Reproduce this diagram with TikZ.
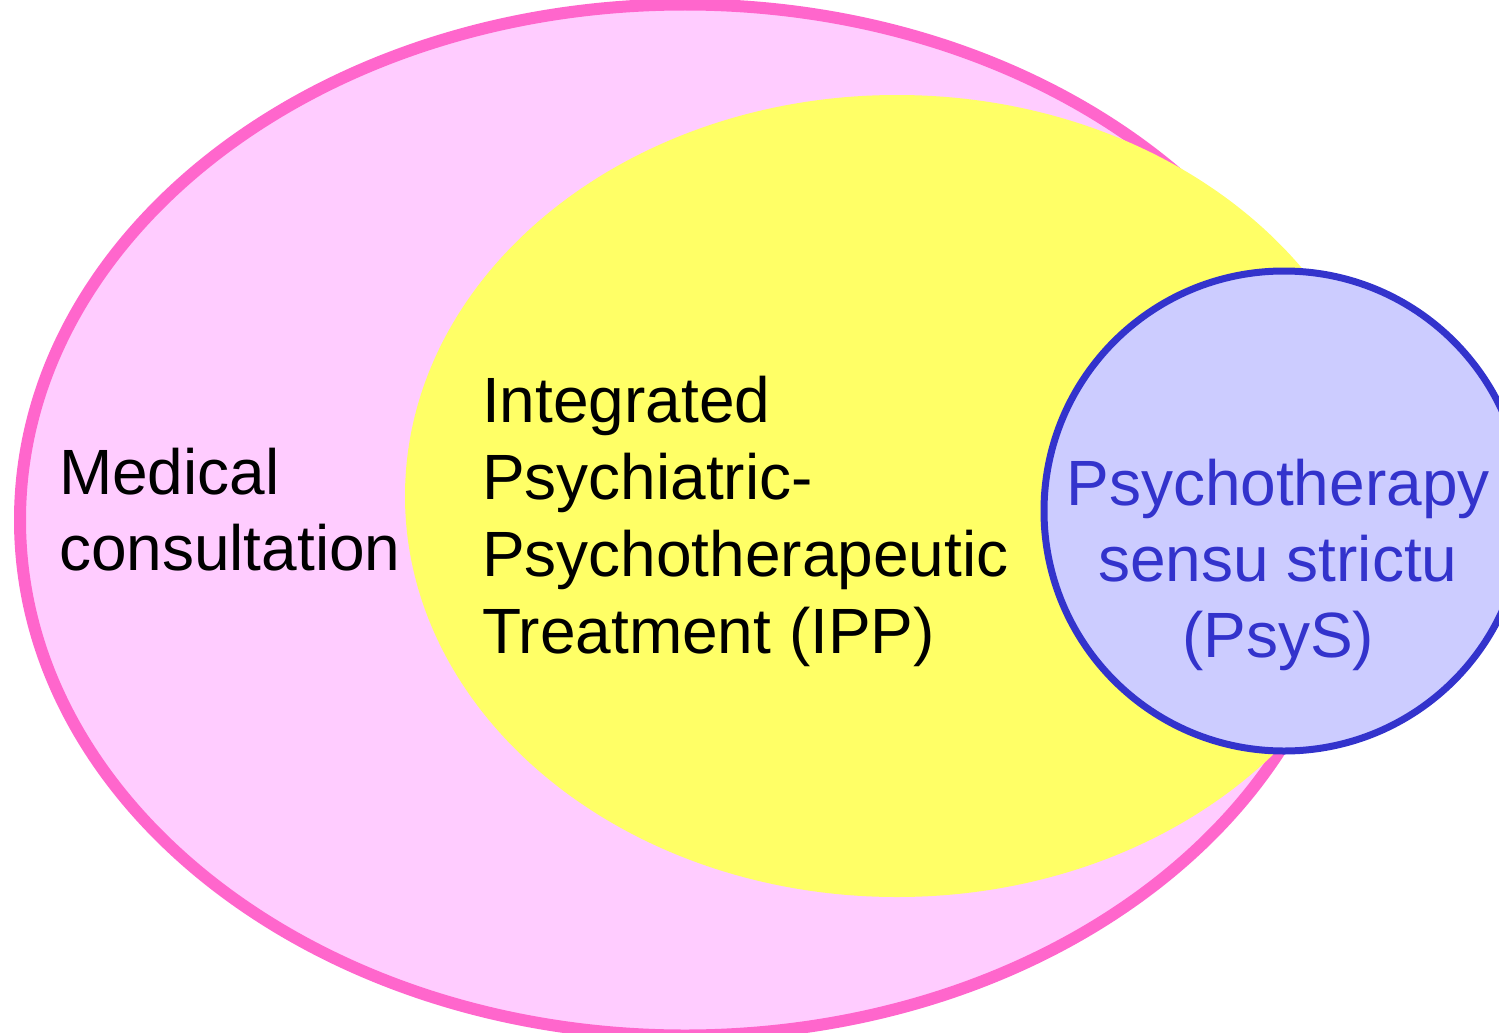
\documentclass[tikz,border=0pt]{standalone}
\usepackage{fontspec}
\setmainfont{Liberation Sans}
\usetikzlibrary{shapes.geometric,positioning}
\definecolor{pinkline}{HTML}{FF66CC}
\definecolor{pinkfill}{HTML}{FFCCFF}
\definecolor{yellowfill}{HTML}{FFFF66}
\definecolor{blueline}{HTML}{3333CC}
\definecolor{bluefill}{HTML}{CCCCFF}

\begin{document}
\begin{tikzpicture}[x=1pt,y=-1pt,
    area/.style={ellipse,inner sep=0pt,outer sep=0pt},
    label text/.style={font=\fontsize{64}{76}\selectfont,inner sep=0pt,outer sep=0pt}]
    \useasboundingbox (0,0) rectangle (1499,1033);
    \node[area,draw=pinkline,fill=pinkfill,line width=12pt,minimum width=1330pt,minimum height=1031pt] (Medical) at (685,520) {};
    \node[area,fill=yellowfill,minimum width=984pt,minimum height=802pt] (IPP) at (897,496) {};
    \node[circle,inner sep=0pt,draw=blueline,fill=bluefill,line width=7pt,minimum size=480pt] (PsyS) at (1284,511) {};
    %
    \node[label text,align=left,anchor=base west] (Medical_text) at (59,570) {Medical\\consultation};
    \node[label text,font=\fontsize{64}{77}\selectfont,align=left,anchor=base west] (IPP_text) at (482,653) {Integrated\\Psychiatric-\\Psychotherapeutic\\Treatment (IPP)};
    \node[label text,align=center,anchor=base,text=blueline] (PsyS_text) at (1278,657) {Psychotherapy\\sensu strictu\\(PsyS)};
\end{tikzpicture}
\end{document}
